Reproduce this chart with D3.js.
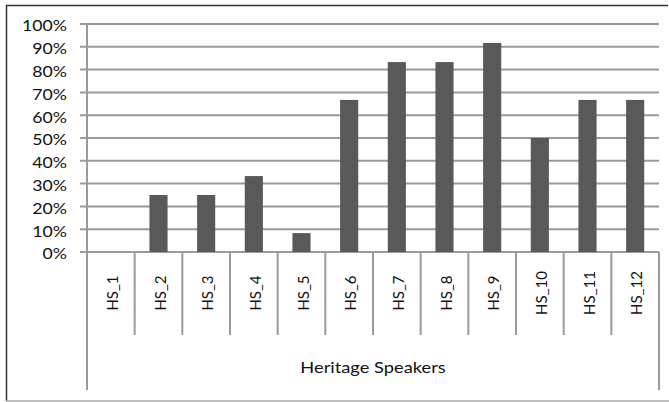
<!DOCTYPE html>
<html>
<head>
<meta charset="utf-8">
<script src="https://cdn.jsdelivr.net/npm/d3@7"></script>
<style>
  body { margin: 0; background: #fff; }
  text { font-family: Lato, "Open Sans", sans-serif; fill: #111; }
</style>
</head>
<body>
<div id="chart"></div>
<script>
/* Heritage Speakers bar chart */

const categories = ["HS_1", "HS_2", "HS_3", "HS_4", "HS_5", "HS_6", "HS_7", "HS_8", "HS_9", "HS_10", "HS_11", "HS_12"];
const values = [0, 0.25, 0.25, 0.333, 0.083, 0.667, 0.833, 0.833, 0.917, 0.5, 0.667, 0.667];
const yTicks = [0, 0.1, 0.2, 0.3, 0.4, 0.5, 0.6, 0.7, 0.8, 0.9, 1];
const groupLabel = "Heritage Speakers";

const width = 669, height = 402,
    margin = ({ top: 24, right: 10, bottom: 150, left: 87 });
const plotRight = 659, baseY = 252;

const svg = d3.select("#chart")
    .append("svg")
    .attr("width", width)
    .attr("height", height);

const x = d3.scaleBand()
    .domain(categories)
    .range([margin.left, plotRight])
    .paddingInner(0.62)
    .paddingOuter(0.31);

const y = d3.scaleLinear()
    .domain([0, 1])
    .range([baseY, margin.top]);

const grey = "#9a9a9a";
const sx = 1.18; // text in the original is a bit wide

/* outer frame */
svg.append("line").attr("x1", 6).attr("x2", 668).attr("y1", 5.5).attr("y2", 5.5)
    .attr("stroke", "#333").attr("stroke-width", 1.5);
svg.append("line").attr("x1", 6.5).attr("x2", 6.5).attr("y1", 5).attr("y2", 401)
    .attr("stroke", "#333").attr("stroke-width", 1.5);
svg.append("line").attr("x1", 6).attr("x2", 669).attr("y1", 401).attr("y2", 401)
    .attr("stroke", "#aaa").attr("stroke-width", 1.5);

/* gridlines with the little outside ticks */
svg.append("g")
    .selectAll("line")
    .data(yTicks)
    .join("line")
      .attr("x1", margin.left - 7)
      .attr("x2", plotRight)
      .attr("y1", d => y(d))
      .attr("y2", d => y(d))
      .attr("stroke", grey)
      .attr("stroke-width", 2);

/* y tick labels */
svg.append("g")
    .selectAll("text")
    .data(yTicks)
    .join("text")
      .attr("transform", d => `translate(67,${y(d) + 1.5}) scale(${sx},1)`)
      .attr("text-anchor", "end")
      .attr("dominant-baseline", "central")
      .attr("font-size", 15)
      .text(d => Math.round(d * 100) + "%");

/* bars */
svg.append("g")
    .selectAll("rect")
    .data(categories)
    .join("rect")
      .attr("x", d => x(d))
      .attr("y", (d, i) => y(values[i]))
      .attr("width", x.bandwidth())
      .attr("height", (d, i) => y(0) - y(values[i]))
      .attr("fill", "#595959");

/* axis line + category separators */
const bounds = d3.range(categories.length + 1)
    .map(i => margin.left + i * (plotRight - margin.left) / categories.length);

svg.append("g")
    .selectAll("line")
    .data(bounds)
    .join("line")
      .attr("x1", d => d)
      .attr("x2", d => d)
      .attr("y1", (d, i) => i === 0 ? y(1) : y(0))
      .attr("y2", (d, i) => (i === 0 || i === categories.length) ? 390 : 335)
      .attr("stroke", grey)
      .attr("stroke-width", 2);

/* rotated category labels */
svg.append("g")
    .selectAll("text")
    .data(categories)
    .join("text")
      .attr("transform", d => `translate(${x(d) + x.bandwidth() / 2 + 1},293) scale(1.05,1) rotate(-90)`)
      .attr("text-anchor", "middle")
      .attr("dominant-baseline", "central")
      .attr("font-size", 15)
      .text(d => d);

/* group label */
svg.append("text")
    .attr("transform", `translate(${(margin.left + plotRight) / 2},373) scale(${sx},1)`)
    .attr("text-anchor", "middle")
    .attr("font-size", 15.5)
    .text(groupLabel);
</script>
</body>
</html>
